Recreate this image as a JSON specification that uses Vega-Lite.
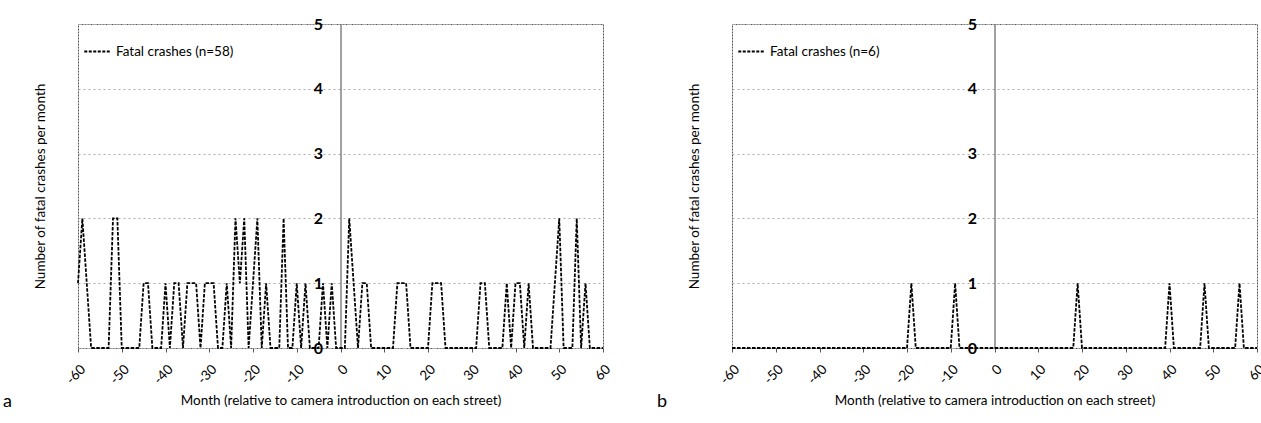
{
  "$schema": "https://vega.github.io/schema/vega-lite/v6.json",
  "background": "white",
  "padding": {"left": 2, "top": 15, "right": 0, "bottom": 0},
  "spacing": 42,
  "resolve": {"scale": {"color": "independent"}, "legend": {"color": "independent"}},
  "config": {
    "font": "Lato",
    "view": {"stroke": "#555", "strokeDash": [2, 1], "strokeWidth": 1},
    "axis": {"labelColor": "#000", "titleColor": "#000", "titleFontWeight": "normal"},
    "legend": {"labelColor": "#000"}
  },
  "datasets": {
    "a": [
      {"month": -60, "crashes": 1, "series": "Fatal crashes (n=58)"},
      {"month": -59, "crashes": 2, "series": "Fatal crashes (n=58)"},
      {"month": -58, "crashes": 1, "series": "Fatal crashes (n=58)"},
      {"month": -57, "crashes": 0, "series": "Fatal crashes (n=58)"},
      {"month": -56, "crashes": 0, "series": "Fatal crashes (n=58)"},
      {"month": -55, "crashes": 0, "series": "Fatal crashes (n=58)"},
      {"month": -54, "crashes": 0, "series": "Fatal crashes (n=58)"},
      {"month": -53, "crashes": 0, "series": "Fatal crashes (n=58)"},
      {"month": -52, "crashes": 2, "series": "Fatal crashes (n=58)"},
      {"month": -51, "crashes": 2, "series": "Fatal crashes (n=58)"},
      {"month": -50, "crashes": 0, "series": "Fatal crashes (n=58)"},
      {"month": -49, "crashes": 0, "series": "Fatal crashes (n=58)"},
      {"month": -48, "crashes": 0, "series": "Fatal crashes (n=58)"},
      {"month": -47, "crashes": 0, "series": "Fatal crashes (n=58)"},
      {"month": -46, "crashes": 0, "series": "Fatal crashes (n=58)"},
      {"month": -45, "crashes": 1, "series": "Fatal crashes (n=58)"},
      {"month": -44, "crashes": 1, "series": "Fatal crashes (n=58)"},
      {"month": -43, "crashes": 0, "series": "Fatal crashes (n=58)"},
      {"month": -42, "crashes": 0, "series": "Fatal crashes (n=58)"},
      {"month": -41, "crashes": 0, "series": "Fatal crashes (n=58)"},
      {"month": -40, "crashes": 1, "series": "Fatal crashes (n=58)"},
      {"month": -39, "crashes": 0, "series": "Fatal crashes (n=58)"},
      {"month": -38, "crashes": 1, "series": "Fatal crashes (n=58)"},
      {"month": -37, "crashes": 1, "series": "Fatal crashes (n=58)"},
      {"month": -36, "crashes": 0, "series": "Fatal crashes (n=58)"},
      {"month": -35, "crashes": 1, "series": "Fatal crashes (n=58)"},
      {"month": -34, "crashes": 1, "series": "Fatal crashes (n=58)"},
      {"month": -33, "crashes": 1, "series": "Fatal crashes (n=58)"},
      {"month": -32, "crashes": 0, "series": "Fatal crashes (n=58)"},
      {"month": -31, "crashes": 1, "series": "Fatal crashes (n=58)"},
      {"month": -30, "crashes": 1, "series": "Fatal crashes (n=58)"},
      {"month": -29, "crashes": 1, "series": "Fatal crashes (n=58)"},
      {"month": -28, "crashes": 0, "series": "Fatal crashes (n=58)"},
      {"month": -27, "crashes": 0, "series": "Fatal crashes (n=58)"},
      {"month": -26, "crashes": 1, "series": "Fatal crashes (n=58)"},
      {"month": -25, "crashes": 0, "series": "Fatal crashes (n=58)"},
      {"month": -24, "crashes": 2, "series": "Fatal crashes (n=58)"},
      {"month": -23, "crashes": 1, "series": "Fatal crashes (n=58)"},
      {"month": -22, "crashes": 2, "series": "Fatal crashes (n=58)"},
      {"month": -21, "crashes": 0, "series": "Fatal crashes (n=58)"},
      {"month": -20, "crashes": 1, "series": "Fatal crashes (n=58)"},
      {"month": -19, "crashes": 2, "series": "Fatal crashes (n=58)"},
      {"month": -18, "crashes": 0, "series": "Fatal crashes (n=58)"},
      {"month": -17, "crashes": 1, "series": "Fatal crashes (n=58)"},
      {"month": -16, "crashes": 0, "series": "Fatal crashes (n=58)"},
      {"month": -15, "crashes": 0, "series": "Fatal crashes (n=58)"},
      {"month": -14, "crashes": 0, "series": "Fatal crashes (n=58)"},
      {"month": -13, "crashes": 2, "series": "Fatal crashes (n=58)"},
      {"month": -12, "crashes": 0, "series": "Fatal crashes (n=58)"},
      {"month": -11, "crashes": 0, "series": "Fatal crashes (n=58)"},
      {"month": -10, "crashes": 1, "series": "Fatal crashes (n=58)"},
      {"month": -9, "crashes": 0, "series": "Fatal crashes (n=58)"},
      {"month": -8, "crashes": 1, "series": "Fatal crashes (n=58)"},
      {"month": -7, "crashes": 0, "series": "Fatal crashes (n=58)"},
      {"month": -6, "crashes": 0, "series": "Fatal crashes (n=58)"},
      {"month": -5, "crashes": 0, "series": "Fatal crashes (n=58)"},
      {"month": -4, "crashes": 1, "series": "Fatal crashes (n=58)"},
      {"month": -3, "crashes": 0, "series": "Fatal crashes (n=58)"},
      {"month": -2, "crashes": 1, "series": "Fatal crashes (n=58)"},
      {"month": -1, "crashes": 0, "series": "Fatal crashes (n=58)"},
      {"month": 0, "crashes": 0, "series": "Fatal crashes (n=58)"},
      {"month": 1, "crashes": 0, "series": "Fatal crashes (n=58)"},
      {"month": 2, "crashes": 2, "series": "Fatal crashes (n=58)"},
      {"month": 3, "crashes": 1, "series": "Fatal crashes (n=58)"},
      {"month": 4, "crashes": 0, "series": "Fatal crashes (n=58)"},
      {"month": 5, "crashes": 1, "series": "Fatal crashes (n=58)"},
      {"month": 6, "crashes": 1, "series": "Fatal crashes (n=58)"},
      {"month": 7, "crashes": 0, "series": "Fatal crashes (n=58)"},
      {"month": 8, "crashes": 0, "series": "Fatal crashes (n=58)"},
      {"month": 9, "crashes": 0, "series": "Fatal crashes (n=58)"},
      {"month": 10, "crashes": 0, "series": "Fatal crashes (n=58)"},
      {"month": 11, "crashes": 0, "series": "Fatal crashes (n=58)"},
      {"month": 12, "crashes": 0, "series": "Fatal crashes (n=58)"},
      {"month": 13, "crashes": 1, "series": "Fatal crashes (n=58)"},
      {"month": 14, "crashes": 1, "series": "Fatal crashes (n=58)"},
      {"month": 15, "crashes": 1, "series": "Fatal crashes (n=58)"},
      {"month": 16, "crashes": 0, "series": "Fatal crashes (n=58)"},
      {"month": 17, "crashes": 0, "series": "Fatal crashes (n=58)"},
      {"month": 18, "crashes": 0, "series": "Fatal crashes (n=58)"},
      {"month": 19, "crashes": 0, "series": "Fatal crashes (n=58)"},
      {"month": 20, "crashes": 0, "series": "Fatal crashes (n=58)"},
      {"month": 21, "crashes": 1, "series": "Fatal crashes (n=58)"},
      {"month": 22, "crashes": 1, "series": "Fatal crashes (n=58)"},
      {"month": 23, "crashes": 1, "series": "Fatal crashes (n=58)"},
      {"month": 24, "crashes": 0, "series": "Fatal crashes (n=58)"},
      {"month": 25, "crashes": 0, "series": "Fatal crashes (n=58)"},
      {"month": 26, "crashes": 0, "series": "Fatal crashes (n=58)"},
      {"month": 27, "crashes": 0, "series": "Fatal crashes (n=58)"},
      {"month": 28, "crashes": 0, "series": "Fatal crashes (n=58)"},
      {"month": 29, "crashes": 0, "series": "Fatal crashes (n=58)"},
      {"month": 30, "crashes": 0, "series": "Fatal crashes (n=58)"},
      {"month": 31, "crashes": 0, "series": "Fatal crashes (n=58)"},
      {"month": 32, "crashes": 1, "series": "Fatal crashes (n=58)"},
      {"month": 33, "crashes": 1, "series": "Fatal crashes (n=58)"},
      {"month": 34, "crashes": 0, "series": "Fatal crashes (n=58)"},
      {"month": 35, "crashes": 0, "series": "Fatal crashes (n=58)"},
      {"month": 36, "crashes": 0, "series": "Fatal crashes (n=58)"},
      {"month": 37, "crashes": 0, "series": "Fatal crashes (n=58)"},
      {"month": 38, "crashes": 1, "series": "Fatal crashes (n=58)"},
      {"month": 39, "crashes": 0, "series": "Fatal crashes (n=58)"},
      {"month": 40, "crashes": 1, "series": "Fatal crashes (n=58)"},
      {"month": 41, "crashes": 1, "series": "Fatal crashes (n=58)"},
      {"month": 42, "crashes": 0, "series": "Fatal crashes (n=58)"},
      {"month": 43, "crashes": 1, "series": "Fatal crashes (n=58)"},
      {"month": 44, "crashes": 0, "series": "Fatal crashes (n=58)"},
      {"month": 45, "crashes": 0, "series": "Fatal crashes (n=58)"},
      {"month": 46, "crashes": 0, "series": "Fatal crashes (n=58)"},
      {"month": 47, "crashes": 0, "series": "Fatal crashes (n=58)"},
      {"month": 48, "crashes": 0, "series": "Fatal crashes (n=58)"},
      {"month": 49, "crashes": 1, "series": "Fatal crashes (n=58)"},
      {"month": 50, "crashes": 2, "series": "Fatal crashes (n=58)"},
      {"month": 51, "crashes": 0, "series": "Fatal crashes (n=58)"},
      {"month": 52, "crashes": 0, "series": "Fatal crashes (n=58)"},
      {"month": 53, "crashes": 0, "series": "Fatal crashes (n=58)"},
      {"month": 54, "crashes": 2, "series": "Fatal crashes (n=58)"},
      {"month": 55, "crashes": 0, "series": "Fatal crashes (n=58)"},
      {"month": 56, "crashes": 1, "series": "Fatal crashes (n=58)"},
      {"month": 57, "crashes": 0, "series": "Fatal crashes (n=58)"},
      {"month": 58, "crashes": 0, "series": "Fatal crashes (n=58)"},
      {"month": 59, "crashes": 0, "series": "Fatal crashes (n=58)"},
      {"month": 60, "crashes": 0, "series": "Fatal crashes (n=58)"}
    ],
    "b": [
      {"month": -60, "crashes": 0, "series": "Fatal crashes (n=6)"},
      {"month": -59, "crashes": 0, "series": "Fatal crashes (n=6)"},
      {"month": -58, "crashes": 0, "series": "Fatal crashes (n=6)"},
      {"month": -57, "crashes": 0, "series": "Fatal crashes (n=6)"},
      {"month": -56, "crashes": 0, "series": "Fatal crashes (n=6)"},
      {"month": -55, "crashes": 0, "series": "Fatal crashes (n=6)"},
      {"month": -54, "crashes": 0, "series": "Fatal crashes (n=6)"},
      {"month": -53, "crashes": 0, "series": "Fatal crashes (n=6)"},
      {"month": -52, "crashes": 0, "series": "Fatal crashes (n=6)"},
      {"month": -51, "crashes": 0, "series": "Fatal crashes (n=6)"},
      {"month": -50, "crashes": 0, "series": "Fatal crashes (n=6)"},
      {"month": -49, "crashes": 0, "series": "Fatal crashes (n=6)"},
      {"month": -48, "crashes": 0, "series": "Fatal crashes (n=6)"},
      {"month": -47, "crashes": 0, "series": "Fatal crashes (n=6)"},
      {"month": -46, "crashes": 0, "series": "Fatal crashes (n=6)"},
      {"month": -45, "crashes": 0, "series": "Fatal crashes (n=6)"},
      {"month": -44, "crashes": 0, "series": "Fatal crashes (n=6)"},
      {"month": -43, "crashes": 0, "series": "Fatal crashes (n=6)"},
      {"month": -42, "crashes": 0, "series": "Fatal crashes (n=6)"},
      {"month": -41, "crashes": 0, "series": "Fatal crashes (n=6)"},
      {"month": -40, "crashes": 0, "series": "Fatal crashes (n=6)"},
      {"month": -39, "crashes": 0, "series": "Fatal crashes (n=6)"},
      {"month": -38, "crashes": 0, "series": "Fatal crashes (n=6)"},
      {"month": -37, "crashes": 0, "series": "Fatal crashes (n=6)"},
      {"month": -36, "crashes": 0, "series": "Fatal crashes (n=6)"},
      {"month": -35, "crashes": 0, "series": "Fatal crashes (n=6)"},
      {"month": -34, "crashes": 0, "series": "Fatal crashes (n=6)"},
      {"month": -33, "crashes": 0, "series": "Fatal crashes (n=6)"},
      {"month": -32, "crashes": 0, "series": "Fatal crashes (n=6)"},
      {"month": -31, "crashes": 0, "series": "Fatal crashes (n=6)"},
      {"month": -30, "crashes": 0, "series": "Fatal crashes (n=6)"},
      {"month": -29, "crashes": 0, "series": "Fatal crashes (n=6)"},
      {"month": -28, "crashes": 0, "series": "Fatal crashes (n=6)"},
      {"month": -27, "crashes": 0, "series": "Fatal crashes (n=6)"},
      {"month": -26, "crashes": 0, "series": "Fatal crashes (n=6)"},
      {"month": -25, "crashes": 0, "series": "Fatal crashes (n=6)"},
      {"month": -24, "crashes": 0, "series": "Fatal crashes (n=6)"},
      {"month": -23, "crashes": 0, "series": "Fatal crashes (n=6)"},
      {"month": -22, "crashes": 0, "series": "Fatal crashes (n=6)"},
      {"month": -21, "crashes": 0, "series": "Fatal crashes (n=6)"},
      {"month": -20, "crashes": 0, "series": "Fatal crashes (n=6)"},
      {"month": -19, "crashes": 1, "series": "Fatal crashes (n=6)"},
      {"month": -18, "crashes": 0, "series": "Fatal crashes (n=6)"},
      {"month": -17, "crashes": 0, "series": "Fatal crashes (n=6)"},
      {"month": -16, "crashes": 0, "series": "Fatal crashes (n=6)"},
      {"month": -15, "crashes": 0, "series": "Fatal crashes (n=6)"},
      {"month": -14, "crashes": 0, "series": "Fatal crashes (n=6)"},
      {"month": -13, "crashes": 0, "series": "Fatal crashes (n=6)"},
      {"month": -12, "crashes": 0, "series": "Fatal crashes (n=6)"},
      {"month": -11, "crashes": 0, "series": "Fatal crashes (n=6)"},
      {"month": -10, "crashes": 0, "series": "Fatal crashes (n=6)"},
      {"month": -9, "crashes": 1, "series": "Fatal crashes (n=6)"},
      {"month": -8, "crashes": 0, "series": "Fatal crashes (n=6)"},
      {"month": -7, "crashes": 0, "series": "Fatal crashes (n=6)"},
      {"month": -6, "crashes": 0, "series": "Fatal crashes (n=6)"},
      {"month": -5, "crashes": 0, "series": "Fatal crashes (n=6)"},
      {"month": -4, "crashes": 0, "series": "Fatal crashes (n=6)"},
      {"month": -3, "crashes": 0, "series": "Fatal crashes (n=6)"},
      {"month": -2, "crashes": 0, "series": "Fatal crashes (n=6)"},
      {"month": -1, "crashes": 0, "series": "Fatal crashes (n=6)"},
      {"month": 0, "crashes": 0, "series": "Fatal crashes (n=6)"},
      {"month": 1, "crashes": 0, "series": "Fatal crashes (n=6)"},
      {"month": 2, "crashes": 0, "series": "Fatal crashes (n=6)"},
      {"month": 3, "crashes": 0, "series": "Fatal crashes (n=6)"},
      {"month": 4, "crashes": 0, "series": "Fatal crashes (n=6)"},
      {"month": 5, "crashes": 0, "series": "Fatal crashes (n=6)"},
      {"month": 6, "crashes": 0, "series": "Fatal crashes (n=6)"},
      {"month": 7, "crashes": 0, "series": "Fatal crashes (n=6)"},
      {"month": 8, "crashes": 0, "series": "Fatal crashes (n=6)"},
      {"month": 9, "crashes": 0, "series": "Fatal crashes (n=6)"},
      {"month": 10, "crashes": 0, "series": "Fatal crashes (n=6)"},
      {"month": 11, "crashes": 0, "series": "Fatal crashes (n=6)"},
      {"month": 12, "crashes": 0, "series": "Fatal crashes (n=6)"},
      {"month": 13, "crashes": 0, "series": "Fatal crashes (n=6)"},
      {"month": 14, "crashes": 0, "series": "Fatal crashes (n=6)"},
      {"month": 15, "crashes": 0, "series": "Fatal crashes (n=6)"},
      {"month": 16, "crashes": 0, "series": "Fatal crashes (n=6)"},
      {"month": 17, "crashes": 0, "series": "Fatal crashes (n=6)"},
      {"month": 18, "crashes": 0, "series": "Fatal crashes (n=6)"},
      {"month": 19, "crashes": 1, "series": "Fatal crashes (n=6)"},
      {"month": 20, "crashes": 0, "series": "Fatal crashes (n=6)"},
      {"month": 21, "crashes": 0, "series": "Fatal crashes (n=6)"},
      {"month": 22, "crashes": 0, "series": "Fatal crashes (n=6)"},
      {"month": 23, "crashes": 0, "series": "Fatal crashes (n=6)"},
      {"month": 24, "crashes": 0, "series": "Fatal crashes (n=6)"},
      {"month": 25, "crashes": 0, "series": "Fatal crashes (n=6)"},
      {"month": 26, "crashes": 0, "series": "Fatal crashes (n=6)"},
      {"month": 27, "crashes": 0, "series": "Fatal crashes (n=6)"},
      {"month": 28, "crashes": 0, "series": "Fatal crashes (n=6)"},
      {"month": 29, "crashes": 0, "series": "Fatal crashes (n=6)"},
      {"month": 30, "crashes": 0, "series": "Fatal crashes (n=6)"},
      {"month": 31, "crashes": 0, "series": "Fatal crashes (n=6)"},
      {"month": 32, "crashes": 0, "series": "Fatal crashes (n=6)"},
      {"month": 33, "crashes": 0, "series": "Fatal crashes (n=6)"},
      {"month": 34, "crashes": 0, "series": "Fatal crashes (n=6)"},
      {"month": 35, "crashes": 0, "series": "Fatal crashes (n=6)"},
      {"month": 36, "crashes": 0, "series": "Fatal crashes (n=6)"},
      {"month": 37, "crashes": 0, "series": "Fatal crashes (n=6)"},
      {"month": 38, "crashes": 0, "series": "Fatal crashes (n=6)"},
      {"month": 39, "crashes": 0, "series": "Fatal crashes (n=6)"},
      {"month": 40, "crashes": 1, "series": "Fatal crashes (n=6)"},
      {"month": 41, "crashes": 0, "series": "Fatal crashes (n=6)"},
      {"month": 42, "crashes": 0, "series": "Fatal crashes (n=6)"},
      {"month": 43, "crashes": 0, "series": "Fatal crashes (n=6)"},
      {"month": 44, "crashes": 0, "series": "Fatal crashes (n=6)"},
      {"month": 45, "crashes": 0, "series": "Fatal crashes (n=6)"},
      {"month": 46, "crashes": 0, "series": "Fatal crashes (n=6)"},
      {"month": 47, "crashes": 0, "series": "Fatal crashes (n=6)"},
      {"month": 48, "crashes": 1, "series": "Fatal crashes (n=6)"},
      {"month": 49, "crashes": 0, "series": "Fatal crashes (n=6)"},
      {"month": 50, "crashes": 0, "series": "Fatal crashes (n=6)"},
      {"month": 51, "crashes": 0, "series": "Fatal crashes (n=6)"},
      {"month": 52, "crashes": 0, "series": "Fatal crashes (n=6)"},
      {"month": 53, "crashes": 0, "series": "Fatal crashes (n=6)"},
      {"month": 54, "crashes": 0, "series": "Fatal crashes (n=6)"},
      {"month": 55, "crashes": 0, "series": "Fatal crashes (n=6)"},
      {"month": 56, "crashes": 1, "series": "Fatal crashes (n=6)"},
      {"month": 57, "crashes": 0, "series": "Fatal crashes (n=6)"},
      {"month": 58, "crashes": 0, "series": "Fatal crashes (n=6)"},
      {"month": 59, "crashes": 0, "series": "Fatal crashes (n=6)"},
      {"month": 60, "crashes": 0, "series": "Fatal crashes (n=6)"}
    ]
  },
  "hconcat": [
    {
      "width": 525,
      "height": 324,
      "data": {"name": "a"},
      "title": {"text": "a", "orient": "bottom", "anchor": "start", "fontSize": 18, "fontWeight": "normal", "color": "#000", "dx": -30, "dy": -14, "offset": 0},
      "mark": {"type": "line", "strokeDash": [3.5, 1.5], "strokeWidth": 1.8},
      "encoding": {
        "x": {
          "field": "month", "type": "quantitative",
          "scale": {"domain": [-60, 60], "nice": false, "zero": false},
          "axis": {
            "values": [-60, -50, -40, -30, -20, -10, 0, 10, 20, 30, 40, 50, 60],
            "labelAngle": -45, "labelExpr": "toString(datum.value)", "labelFontSize": 13.5, "labelPadding": 10,
            "ticks": true, "tickSize": 4, "tickColor": "#555", "domain": false, "grid": false,
            "title": "Month (relative to camera introduction on each street)", "titleFontSize": 13.5, "titlePadding": 7
          }
        },
        "y": {
          "field": "crashes", "type": "quantitative",
          "scale": {"domain": [0, 5], "nice": false},
          "axis": {
            "values": [0, 1, 2, 3, 4, 5], "offset": -262.5, "domain": true, "domainColor": "#444", "ticks": false,
            "labelFontSize": 16, "labelFontWeight": "bold", "labelPadding": 18, "grid": true, "gridColor": "#aaa", "gridDash": [2, 3],
            "title": "Number of fatal crashes per month", "titleX": -300.5, "titleY": 162, "titleBaseline": "middle", "titleFontSize": 13.5
          }
        },
        "color": {
          "field": "series", "type": "nominal", "scale": {"range": ["black"]},
          "legend": {"orient": "none", "legendX": 5, "legendY": 13, "title": null, "symbolType": "stroke", "symbolStrokeWidth": 1.8, "symbolDash": [3, 1.5], "symbolSize": 700, "labelFontSize": 13.5}
        }
      }
    },
    {
      "width": 525,
      "height": 324,
      "data": {"name": "b"},
      "title": {"text": "b", "orient": "bottom", "anchor": "start", "fontSize": 18, "fontWeight": "normal", "color": "#000", "dx": -30, "dy": -14, "offset": 0},
      "mark": {"type": "line", "strokeDash": [3.5, 1.5], "strokeWidth": 1.8},
      "encoding": {
        "x": {
          "field": "month", "type": "quantitative",
          "scale": {"domain": [-60, 60], "nice": false, "zero": false},
          "axis": {
            "values": [-60, -50, -40, -30, -20, -10, 0, 10, 20, 30, 40, 50, 60],
            "labelAngle": -45, "labelExpr": "toString(datum.value)", "labelFontSize": 13.5, "labelPadding": 10,
            "ticks": true, "tickSize": 4, "tickColor": "#555", "domain": false, "grid": false,
            "title": "Month (relative to camera introduction on each street)", "titleFontSize": 13.5, "titlePadding": 7
          }
        },
        "y": {
          "field": "crashes", "type": "quantitative",
          "scale": {"domain": [0, 5], "nice": false},
          "axis": {
            "values": [0, 1, 2, 3, 4, 5], "offset": -262.5, "domain": true, "domainColor": "#444", "ticks": false,
            "labelFontSize": 16, "labelFontWeight": "bold", "labelPadding": 18, "grid": true, "gridColor": "#aaa", "gridDash": [2, 3],
            "title": "Number of fatal crashes per month", "titleX": -300.5, "titleY": 162, "titleBaseline": "middle", "titleFontSize": 13.5
          }
        },
        "color": {
          "field": "series", "type": "nominal", "scale": {"range": ["black"]},
          "legend": {"orient": "none", "legendX": 5, "legendY": 13, "title": null, "symbolType": "stroke", "symbolStrokeWidth": 1.8, "symbolDash": [3, 1.5], "symbolSize": 700, "labelFontSize": 13.5}
        }
      }
    }
  ]
}
